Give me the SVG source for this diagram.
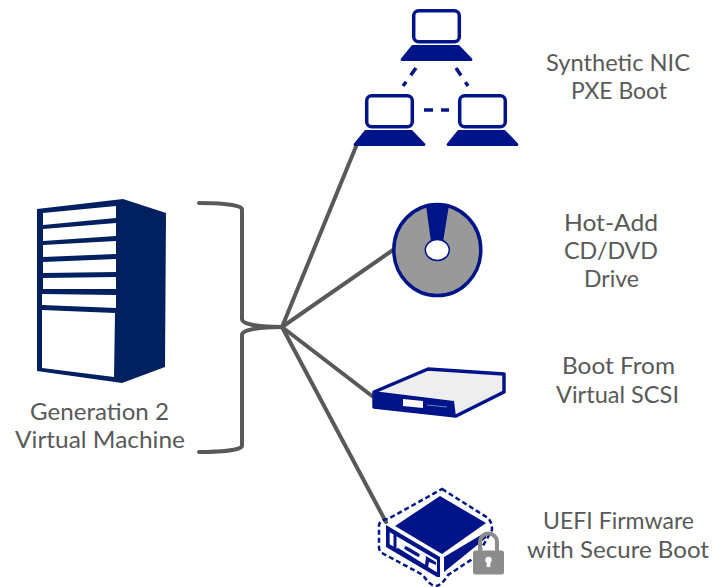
<svg xmlns="http://www.w3.org/2000/svg" width="713" height="587" viewBox="0 0 713 587">
<style>
text{font-family:"Lato","Open Sans","Liberation Sans",sans-serif;font-size:23px;fill:#595959;text-anchor:start}
.c{fill:none;stroke:#595959;stroke-width:4;stroke-linecap:round;stroke-linejoin:round}
.b{fill:#001489}
.scr{fill:#fff;stroke:#001489;stroke-width:3.5}
.d{fill:none;stroke:#001489;stroke-width:3.5}
</style>
<defs>
<g id="laptop">
<rect x="1.7" y="1.7" width="45.600" height="31" rx="5" class="scr"/>
<path class="b" d="M11 36H58L71 49.500Q72 52 70 52H1Q-1 52 0 49.500Z" transform="translate(-11,0)"/>
</g>
</defs>
<rect width="713" height="587" fill="#fff"/>
<g id="connectors">
<path class="c" d="M199 203C220 203 242 205 242 209V319C242 325 262 327 282 327C262 327 242 329 242 335V446C242 450 220 452 199 452"/>
<path class="c" d="M282 327L357 144M282 327L393 250M282 327L372 396M282 327L386 522"/>
</g>
<g id="vm">
<path fill="#002060" d="M37 209L123 199L166 213L165 367L122 383L37 371Z"/>
<g fill="#fff">
<path d="M43 213L116 206V218L43 225Z"/><path d="M43 229L116 223V236L43 241Z"/><path d="M43 245L116 241V254L43 257Z"/><path d="M43 262L116 259V272L43 273Z"/><path d="M43 278L116 277V289L43 289Z"/><path d="M42 294L116 295V308L42 305Z"/><path d="M42 310L115 313L114 377L42 368Z"/>
</g>
<text x="30" y="420" textLength="139" lengthAdjust="spacingAndGlyphs">Generation 2</text>
<text x="15" y="448" textLength="170" lengthAdjust="spacingAndGlyphs">Virtual Machine</text>
</g>
<g id="pxe">
<use href="#laptop" x="412" y="9"/>
<use href="#laptop" x="365" y="94"/>
<use href="#laptop" x="458" y="94"/>
<path class="d" stroke-dasharray="9 8" d="M416 68L403 86M456 68L468 86M424 110H449"/>
<text x="546" y="71" textLength="144" lengthAdjust="spacingAndGlyphs">Synthetic NIC</text>
<text x="571" y="99" textLength="96" lengthAdjust="spacingAndGlyphs">PXE Boot</text>
</g>
<g id="cd">
<ellipse cx="437.300" cy="250" rx="43.500" ry="45.500" fill="#999" stroke="#001489" stroke-width="3.500"/>
<path class="b" d="M426 205Q437 203 449 205L443 242H431Z"/>
<ellipse cx="437.300" cy="250" rx="12" ry="10.500" fill="#fff" stroke="#001489" stroke-width="1.500"/>
<text x="564" y="231" textLength="94" lengthAdjust="spacingAndGlyphs">Hot-Add</text>
<text x="564" y="259" textLength="94" lengthAdjust="spacingAndGlyphs">CD/DVD</text>
<text x="584" y="287" textLength="55" lengthAdjust="spacingAndGlyphs">Drive</text>
</g>
<g id="scsi">
<path d="M428 369L504 374V392L456 416L374 407V392Z" fill="#eee" stroke="#001489" stroke-width="3.500" stroke-linejoin="round"/>
<path class="b" d="M373 391L454 401L456 417L373 408Z"/>
<path fill="#fff" d="M403 399L423 401V408L403 406Z"/>
<path fill="none" stroke="#6f7fc0" d="M427 405L447 407"/>
<text x="562" y="374" textLength="113" lengthAdjust="spacingAndGlyphs">Boot From</text>
<text x="556" y="403" textLength="123" lengthAdjust="spacingAndGlyphs">Virtual SCSI</text>
</g>
<g id="uefi">
<path fill="none" stroke="#001489" stroke-width="2.500" stroke-dasharray="5 3" d="M442 489L488 518Q492 522 492 530L477 556L448 575Q441 586 436 586Q430 586 423 575L382 553Q380 552 379 548L379 525Q380 520 388 519Z"/>
<path class="b" d="M440 496L486 523L442 554L395 526Z"/>
<path class="b" d="M386 525L440 557V577H437L386 547Z"/>
<path fill="#fff" d="M389.700 532.300L437 560V572.300L389.700 544.300Z"/>
<path fill="none" stroke="#001489" stroke-width="3" d="M395 534V548"/>
<path fill="none" stroke="#001489" stroke-width="3" d="M397 549L426 567"/>
<path fill="none" stroke="#001489" stroke-width="3.500" stroke-linecap="round" d="M406 548L418 555"/>
<path class="b" d="M426 556L436 562V565L429 562L428 568L425 565Z"/>
<path class="b" d="M444 557L486 532V538L444 572Z"/>
<rect x="473" y="550.500" width="31" height="24" rx="2.500" fill="#8c8c8c"/>
<path fill="none" stroke="#8c8c8c" stroke-width="4" d="M480 552V542A8.500 8.500 0 0 1 497 542V552"/>
<circle cx="488.500" cy="560" r="3.200" fill="#fff"/>
<path fill="#fff" d="M487 561H490L490.500 567H486.500Z"/>
<text x="543" y="529" textLength="151" lengthAdjust="spacingAndGlyphs">UEFI Firmware</text>
<text x="527" y="558" textLength="182" lengthAdjust="spacingAndGlyphs">with Secure Boot</text>
</g>
</svg>
